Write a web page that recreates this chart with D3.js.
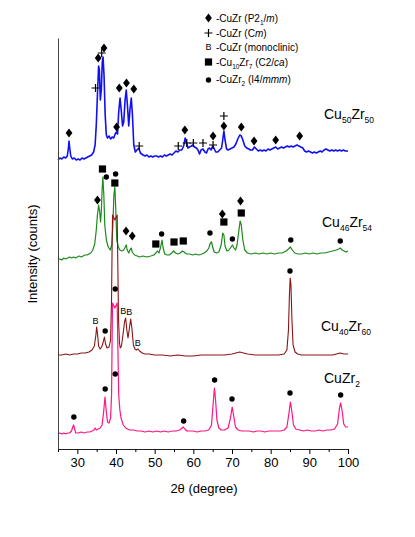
<!DOCTYPE html>
<html lang="en">
<head>
  <meta charset="UTF-8">
  <title>XRD patterns</title>
  <style>
    body { margin: 0; background: #fff; }
    text { font-family: "Liberation Sans", Arial, sans-serif; fill: #000; }
  </style>
</head>
<body>
  <svg id="svg" width="415" height="537"></svg>
  <script src="https://cdn.jsdelivr.net/npm/d3@7"></script>
  <script>
    // 2theta (deg), intensity (counts, stacked)
    const cu50zr50 = [[25.0,289],[25.5,291],[26.0,290],[26.5,292],[27.0,291],[27.4,293],[27.7,301],[27.85,308],[28.0,302],[28.3,293],[28.7,290],[29.2,291],[29.7,289],[30.2,290],[30.7,289],[31.2,291],[31.7,290],[32.2,291],[32.7,292],[33.2,293],[33.7,294],[34.2,297],[34.6,304],[34.9,324],[35.2,354],[35.5,383],[35.7,379],[35.95,349],[36.2,359],[36.45,387],[36.65,392],[36.9,374],[37.2,334],[37.5,314],[37.8,311],[38.2,313],[38.6,310],[39.0,312],[39.4,311],[39.8,315],[40.1,317],[40.4,315],[40.7,337],[41.05,351],[41.3,341],[41.7,323],[42.0,327],[42.35,349],[42.65,359],[42.95,344],[43.3,323],[43.6,339],[43.95,351],[44.25,334],[44.6,304],[45.0,297],[45.4,299],[45.9,301],[46.3,296],[47.0,294],[47.5,293],[48.0,294],[48.5,292],[49.0,293],[49.5,292],[50.0,293],[50.5,293],[51.0,292],[51.5,293],[52.0,292],[52.5,294],[53.0,293],[53.5,294],[54.0,295],[54.5,294],[55.0,296],[55.5,298],[56.0,297],[56.5,299],[57.0,299],[57.5,303],[57.9,311],[58.2,307],[58.6,301],[59.0,302],[59.5,303],[59.9,304],[60.3,302],[60.8,301],[61.2,299],[61.6,295],[62.0,299],[62.5,300],[63.0,297],[63.4,296],[63.8,300],[64.2,301],[64.6,299],[65.0,303],[65.3,301],[65.8,297],[66.3,297],[66.8,299],[67.3,301],[67.6,309],[67.9,318],[68.2,309],[68.6,300],[69.0,299],[69.5,300],[70.0,301],[70.5,302],[71.0,305],[71.5,310],[72.0,314],[72.4,313],[72.8,309],[73.3,303],[73.8,301],[74.3,300],[74.8,299],[75.3,299],[75.8,302],[76.3,300],[76.8,298],[77.3,299],[77.8,298],[78.3,299],[78.8,298],[79.3,300],[79.8,299],[80.3,300],[80.8,301],[81.3,302],[81.8,300],[82.3,301],[82.8,302],[83.3,301],[83.8,302],[84.3,303],[84.8,302],[85.3,303],[85.8,302],[86.3,303],[86.8,304],[87.3,303],[87.8,302],[88.3,301],[88.8,298],[89.3,297],[89.8,298],[90.3,297],[90.8,296],[91.3,297],[91.8,296],[92.3,297],[92.8,298],[93.3,297],[93.8,299],[94.3,300],[94.8,299],[95.3,298],[95.8,299],[96.3,298],[96.8,299],[97.3,298],[97.8,299],[98.3,298],[98.8,299],[99.3,298],[100.0,298]]

    const cu46zr54 = [[25.0,189],[25.5,190],[26.0,189],[26.5,191],[27.0,190],[27.5,191],[28.0,192],[28.5,191],[29.0,192],[29.5,191],[30.0,192],[30.5,193],[31.0,192],[31.5,193],[32.0,194],[32.5,194],[33.0,195],[33.5,196],[34.0,199],[34.5,205],[34.9,219],[35.2,234],[35.5,244],[35.8,237],[36.0,227],[36.2,237],[36.4,259],[36.6,272],[36.85,254],[37.1,224],[37.5,209],[38.0,202],[38.5,199],[38.9,204],[39.2,224],[39.45,254],[39.7,262],[39.95,239],[40.2,209],[40.6,202],[41.0,199],[41.5,198],[42.0,199],[42.4,202],[42.65,204],[42.9,199],[43.3,196],[43.6,199],[43.9,201],[44.2,197],[44.8,194],[45.5,193],[46.0,192],[47.0,193],[48.0,192],[49.0,193],[49.8,194],[50.3,196],[50.7,198],[51.1,196],[51.5,201],[51.9,209],[52.2,201],[52.6,195],[53.2,194],[53.8,194],[54.4,196],[54.9,198],[55.4,196],[56.0,195],[56.6,196],[57.2,198],[57.6,197],[58.2,195],[59.0,195],[59.8,194],[60.6,195],[61.4,194],[62.2,195],[62.8,196],[63.5,198],[64.0,201],[64.4,206],[64.7,207],[65.0,202],[65.4,197],[66.0,196],[66.6,197],[67.2,204],[67.6,216],[67.9,214],[68.2,203],[68.7,198],[69.2,199],[69.6,201],[70.1,204],[70.5,201],[70.9,199],[71.3,204],[71.7,216],[72.1,228],[72.4,224],[72.8,209],[73.3,199],[74.0,196],[75.0,195],[76.0,196],[77.0,195],[78.0,196],[79.0,195],[80.0,196],[81.0,195],[82.0,196],[83.0,196],[84.0,198],[84.6,200],[85.1,202],[85.6,199],[86.2,196],[87.0,195],[88.0,195],[89.0,196],[90.0,195],[91.0,196],[92.0,195],[93.0,196],[94.0,196],[95.0,197],[96.0,198],[97.0,199],[97.6,200],[98.0,201],[98.5,199],[99.0,198],[99.5,197],[100.0,198]]

    const cu40zr60 = [[25.0,94],[26.0,94],[27.0,95],[28.0,94],[29.0,95],[30.0,95],[31.0,96],[32.0,96],[33.0,97],[33.8,99],[34.4,103],[34.8,114],[35.0,122],[35.2,116],[35.5,103],[35.9,100],[36.3,102],[36.7,107],[37.0,112],[37.3,105],[37.7,101],[38.2,102],[38.6,109],[38.85,150],[39.0,205],[39.1,234],[39.7,229],[40.3,234],[40.45,190],[40.65,130],[40.9,106],[41.1,101],[41.4,103],[41.8,114],[42.2,127],[42.5,131],[42.8,119],[43.1,111],[43.4,119],[43.8,130],[44.1,121],[44.5,104],[44.9,100],[45.3,99],[45.7,100],[46.1,98],[46.8,96],[47.5,95],[48.5,95],[50.0,94],[52.0,94],[54.0,93],[56.0,94],[58.0,93],[60.0,93],[62.0,94],[64.0,94],[66.0,94],[68.0,94],[70.0,95],[71.0,96],[72.0,97],[73.0,96],[74.0,95],[76.0,94],[78.0,94],[80.0,94],[82.0,94],[83.5,95],[84.2,99],[84.6,119],[84.85,154],[85.05,171],[85.25,164],[85.5,129],[85.8,104],[86.3,97],[87.0,95],[88.0,94],[90.0,94],[92.0,94],[94.0,94],[96.0,94],[97.0,95],[98.0,96],[99.0,95],[100.0,95]]

    const cuzr2 = [[25.0,15],[25.5,16],[26.0,15],[26.5,16],[27.0,15],[27.5,16],[28.0,16],[28.5,18],[28.8,22],[29.05,24],[29.3,20],[29.6,16],[30.2,16],[31.0,17],[31.8,16],[32.5,17],[33.2,17],[33.8,18],[34.3,19],[34.6,21],[34.9,19],[35.4,20],[35.9,21],[36.4,24],[36.8,37],[37.15,52],[37.45,39],[37.8,27],[38.2,26],[38.6,31],[38.85,54],[39.0,112],[39.1,146],[39.7,141],[40.3,146],[40.45,109],[40.7,54],[41.0,39],[41.3,31],[41.9,24],[42.5,21],[43.5,19],[44.5,19],[45.5,18],[46.5,18],[47.5,17],[48.5,18],[49.5,17],[50.5,18],[51.5,17],[52.5,18],[53.5,17],[54.5,18],[55.5,18],[56.5,19],[57.1,21],[57.4,22],[57.8,20],[58.3,18],[59.0,18],[60.0,18],[61.0,17],[62.0,18],[63.0,18],[64.0,19],[64.7,24],[65.1,44],[65.45,61],[65.75,49],[66.1,29],[66.6,21],[67.2,19],[68.0,19],[69.0,21],[69.6,31],[70.05,42],[70.4,34],[70.9,22],[71.6,19],[72.5,18],[73.5,18],[74.5,18],[75.5,17],[76.5,18],[77.5,18],[78.5,17],[79.5,18],[80.5,18],[81.5,18],[82.5,18],[83.5,19],[84.2,22],[84.7,35],[85.1,47],[85.5,37],[85.9,24],[86.5,20],[87.5,19],[88.5,18],[89.5,19],[90.5,18],[91.5,18],[92.5,19],[93.5,18],[94.5,19],[95.5,19],[96.5,20],[97.3,25],[97.8,41],[98.1,46],[98.45,39],[98.9,25],[99.4,22],[100.0,22]]

    // peak markers: [2theta, counts, phase]
    const cu50zr50Marks = [[27.85,316,'d'],[34.7,361,'p'],[35.4,391,'d'],[36.3,396,'p'],[36.9,401,'d'],[40.15,322,'d'],[40.85,361,'d'],[42.7,366,'d'],[44.6,360,'d'],[46.0,303,'p'],[56.1,303,'p'],[57.8,319,'d'],[58.3,306,'p'],[60.0,306,'p'],[62.5,306,'p'],[65.1,313,'d'],[65.1,304,'p'],[67.9,323,'d'],[67.9,333,'p'],[72.4,322,'d'],[75.7,308,'d'],[81.3,309,'d'],[87.5,313,'d']]
    const cu46zr54Marks = [[35.2,249,'d'],[36.5,280,'s'],[37.5,272,'c'],[39.7,266,'s'],[39.9,275,'c'],[42.6,218,'d'],[44.2,213,'d'],[50.3,205,'s'],[51.8,215,'c'],[55.0,207,'s'],[57.4,208,'s'],[64.3,216,'c'],[67.5,235,'d'],[67.9,227,'s'],[70.1,210,'c'],[72.2,248,'d'],[72.4,236,'s'],[85.2,209,'c'],[98.0,208,'c']]
    const cu40zr60Marks = [[34.7,128,'b'],[37.2,118,'c'],[39.8,160,'c'],[41.9,138,'b'],[43.4,137,'b'],[45.6,106,'b'],[85.0,178,'c']]
    const cuzr2Marks = [[29.1,32,'c'],[37.2,60,'c'],[39.8,75,'c'],[57.5,28,'c'],[65.5,69,'c'],[70.0,50,'c'],[85.0,56,'c'],[98.1,54,'c']]

    const sampleNames = [
      [['Cu',''],['50','sub'],['Zr',''],['50','sub']],
      [['Cu',''],['46','sub'],['Zr',''],['54','sub']],
      [['Cu',''],['40','sub'],['Zr',''],['60','sub']],
      [['CuZr',''],['2','sub']]
    ]
    const legendSymbols = ['d', 'p', 'b', 's', 'c']
    const legendLabels = [
      [['-CuZr (P2',''],['1','sub'],['/',''],['m','i'],[')','']],
      [['-CuZr (C',''],['m','i'],[')','']],
      [['-CuZr (monoclinic)','']],
      [['-Cu',''],['10','sub'],['Zr',''],['7','sub'],[' (C2/',''],['ca','i'],[')','']],
      [['-CuZr',''],['2','sub'],[' (I4/',''],['mmm','i'],[')','']]
    ]
    const xTicks = [30, 40, 50, 60, 70, 80, 90, 100]
    const xMinorTicks = [25, 35, 45, 55, 65, 75, 85, 95]

    const traces = [
      { data: cu50zr50, marks: cu50zr50Marks, color: '#1010f0', width: 1.6, label: [324, 119] },
      { data: cu46zr54, marks: cu46zr54Marks, color: '#1b8a1b', width: 1.2, label: [322, 227] },
      { data: cu40zr60, marks: cu40zr60Marks, color: '#8b1414', width: 1.1, label: [321, 331] },
      { data: cuzr2, marks: cuzr2Marks, color: '#ff1584', width: 1.2, label: [324, 383] }
    ]

    const svg = d3.select('#svg')
    const x = d3.scaleLinear().domain([25, 100]).range([58, 348])
    const y = d3.scaleLinear().domain([0, 411]).range([449, 38])

    const line = d3.line().x(d => x(d[0])).y(d => y(d[1]))

    // curves, pink drawn last (on top)
    svg.append('g')
      .selectAll('path')
      .data(traces)
      .enter()
      .append('path')
      .attr('d', d => line(d.data))
      .attr('fill', 'none')
      .attr('stroke', d => d.color)
      .attr('stroke-width', d => d.width)
      .attr('stroke-linejoin', 'round')

    function drawSymbol(g, type) {
      if (type === 'd') {
        g.append('path').attr('d', 'M0,-4.6L3.4,0L0,4.6L-3.4,0Z').attr('fill', '#000')
      } else if (type === 'p') {
        g.append('path').attr('d', 'M-4,0H4M0,-4V4').attr('stroke', '#000').attr('stroke-width', 1.2)
      } else if (type === 's') {
        g.append('rect').attr('x', -3.6).attr('y', -3.6).attr('width', 7.2).attr('height', 7.2).attr('fill', '#000')
      } else if (type === 'c') {
        g.append('circle').attr('r', 2.7).attr('fill', '#000')
      } else if (type === 'b') {
        g.append('text').text('B').attr('text-anchor', 'middle').attr('y', 3.3).style('font-size', '9px')
      }
    }

    const markLayer = svg.append('g')
    traces.forEach(t => {
      t.marks.forEach(m => {
        const g = markLayer.append('g').attr('transform', `translate(${x(m[0])}, ${y(m[1])})`)
        drawSymbol(g, m[2])
      })
    })

    function richText(sel, parts, size, subSize) {
      let prevSub = false
      parts.forEach(p => {
        const isSub = p[1] === 'sub'
        const ts = sel.append('tspan').text(p[0])
          .style('font-size', (isSub ? subSize : size) + 'px')
        if (isSub && !prevSub) ts.attr('dy', size * 0.3)
        if (!isSub && prevSub) ts.attr('dy', -size * 0.3)
        if (p[1] === 'i') ts.style('font-style', 'italic')
        prevSub = isSub
      })
    }

    // sample names
    traces.forEach((t, i) => {
      const txt = svg.append('text').attr('x', t.label[0]).attr('y', t.label[1])
      richText(txt, sampleNames[i], 14, 8.5)
    })

    // legend
    const legendY = [22, 37, 51, 66, 83]
    const legendMarkY = [18, 33, 47, 62, 80]
    legendLabels.forEach((parts, i) => {
      const g = svg.append('g').attr('transform', `translate(208.5, ${legendMarkY[i]})`)
      drawSymbol(g, legendSymbols[i])
      const txt = svg.append('text').attr('x', 216).attr('y', legendY[i])
      richText(txt, parts, 10, 6.5)
    })

    // bottom axis
    const bottomAxis = d3.axisBottom(x).tickValues(xTicks).tickSize(5).tickSizeOuter(0).tickPadding(4)
    const gx = svg.append('g')
      .attr('transform', `translate(0, ${449})`)
      .call(bottomAxis)
    gx.selectAll('text').style('font-size', '13px').style('font-family', '"Liberation Sans", Arial, sans-serif')
    gx.select('.domain').attr('stroke', '#222')

    const minorAxis = d3.axisBottom(x).tickValues(xMinorTicks).tickSize(3).tickSizeOuter(0).tickFormat('')
    svg.append('g')
      .attr('transform', `translate(0, ${449})`)
      .call(minorAxis)
      .select('.domain').remove()

    // left axis, line only
    const leftAxis = d3.axisLeft(y).tickValues([]).tickSizeOuter(0)
    svg.append('g')
      .attr('transform', `translate(${58}, 0)`)
      .call(leftAxis)
      .select('.domain').attr('stroke', '#444')

    svg.append('text')
      .attr('x', 204).attr('y', 493)
      .attr('text-anchor', 'middle')
      .style('font-size', '13px')
      .text('2θ (degree)')

    svg.append('text')
      .attr('transform', 'translate(37, 254) rotate(-90)')
      .attr('text-anchor', 'middle')
      .style('font-size', '13px')
      .text('Intensity (counts)')
  </script>
</body>
</html>
